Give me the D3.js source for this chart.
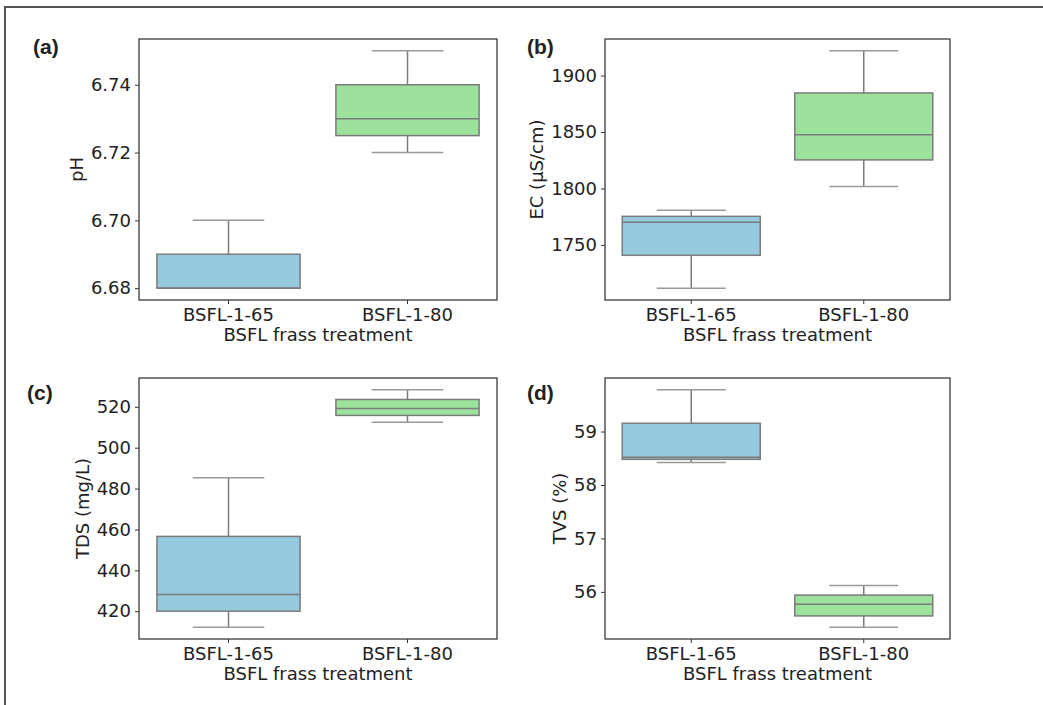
<!DOCTYPE html>
<html>
<head>
<meta charset="utf-8">
<script src="https://cdn.jsdelivr.net/npm/d3@7"></script>
<style>
  body { margin: 0; background: #fff; }
  text { font-family: "DejaVu Sans", sans-serif; fill: #222; }
  .tag { font-family: "Liberation Sans", Arial, sans-serif; font-weight: bold; }
</style>
</head>
<body>
<svg id="chart" width="1043" height="705"></svg>
<script>
const categories = ['BSFL-1-65', 'BSFL-1-80'];
const boxColors = ['#94c9de', '#9ce29c'];

// box stats per treatment: [low whisker, q1, median, q3, high whisker]
const phStats = [[6.68, 6.68, 6.68, 6.69, 6.70], [6.72, 6.725, 6.73, 6.74, 6.75]];
const ecStats = [[1711.7, 1740.8, 1770, 1775.3, 1780.6], [1801.8, 1825.3, 1847.6, 1884.6, 1921.9]];
const tdsStats = [[412.2, 420, 428.2, 456.6, 485.3], [512.5, 515.8, 519.2, 523.6, 528.3]];
const tvsStats = [[58.42, 58.48, 58.52, 59.155, 59.78], [55.34, 55.55, 55.77, 55.94, 56.12]];

const phTicks = [6.68, 6.70, 6.72, 6.74];
const ecTicks = [1750, 1800, 1850, 1900];
const tdsTicks = [420, 440, 460, 480, 500, 520];
const tvsTicks = [56, 57, 58, 59];

const panels = [
  { tag: '(a)', ylabel: 'pH', stats: phStats, ticks: phTicks, fmt: d3.format('.2f'),
    x0: 139, x1: 497, y0: 39, y1: 300, tagX: 33, tagY: 54 },
  { tag: '(b)', ylabel: 'EC (µS/cm)', stats: ecStats, ticks: ecTicks, fmt: d3.format('d'),
    x0: 605, x1: 950, y0: 39, y1: 300, tagX: 527, tagY: 54 },
  { tag: '(c)', ylabel: 'TDS (mg/L)', stats: tdsStats, ticks: tdsTicks, fmt: d3.format('d'),
    x0: 139, x1: 497, y0: 378, y1: 639, tagX: 27, tagY: 400 },
  { tag: '(d)', ylabel: 'TVS (%)', stats: tvsStats, ticks: tvsTicks, fmt: d3.format('d'),
    x0: 605, x1: 950, y0: 378, y1: 639, tagX: 527, tagY: 400 },
];

const svg = d3.select('#chart');
const lineColor = '#7b7b7b';

// outer frame (top and left only)
svg.append('path')
   .attr('d', 'M5,705V7H1043')
   .attr('fill', 'none')
   .attr('stroke', '#555')
   .attr('stroke-width', 2);

panels.forEach(p => {
  const lo = d3.min(p.stats, s => s[0]);
  const hi = d3.max(p.stats, s => s[4]);
  const pad = (hi - lo) * 0.05;

  const x = d3.scaleBand().domain(categories).range([p.x0, p.x1]);
  const y = d3.scaleLinear().domain([lo - pad, hi + pad]).range([p.y1, p.y0]);

  const g = svg.append('g');

  const yAxis = g.append('g')
    .attr('transform', `translate(${p.x0},0)`)
    .call(d3.axisLeft(y).tickValues(p.ticks).tickFormat(p.fmt).tickSize(4).tickPadding(4));
  const xAxis = g.append('g')
    .attr('transform', `translate(0,${p.y1})`)
    .call(d3.axisBottom(x).tickSize(4).tickPadding(4));

  [yAxis, xAxis].forEach(a => {
    a.select('.domain').remove();
    a.selectAll('.tick line').attr('stroke', '#333').attr('stroke-width', 1);
    a.selectAll('.tick text').attr('font-size', 18).attr('fill', '#222')
     .style('font-family', '"DejaVu Sans", sans-serif');
  });

  // boxes
  const bw = x.bandwidth() * 0.8;
  const boxes = g.selectAll('g.box')
    .data(p.stats.map((s, i) => ({ cat: categories[i], s, color: boxColors[i] })))
    .enter().append('g')
      .attr('class', 'box')
      .attr('transform', d => `translate(${x(d.cat) + x.bandwidth() / 2},0)`);

  boxes.append('line')
    .attr('y1', d => y(d.s[0])).attr('y2', d => y(d.s[1]))
    .attr('stroke', lineColor).attr('stroke-width', 1.5);
  boxes.append('line')
    .attr('y1', d => y(d.s[3])).attr('y2', d => y(d.s[4]))
    .attr('stroke', lineColor).attr('stroke-width', 1.5);
  [0, 4].forEach(k => {
    boxes.append('line')
      .attr('x1', -bw / 4).attr('x2', bw / 4)
      .attr('y1', d => y(d.s[k])).attr('y2', d => y(d.s[k]))
      .attr('stroke', '#999').attr('stroke-width', 1.5);
  });
  boxes.append('rect')
    .attr('x', -bw / 2).attr('width', bw)
    .attr('y', d => y(d.s[3]))
    .attr('height', d => y(d.s[1]) - y(d.s[3]))
    .attr('fill', d => d.color)
    .attr('stroke', lineColor).attr('stroke-width', 1.5);
  boxes.append('line')
    .attr('x1', -bw / 2).attr('x2', bw / 2)
    .attr('y1', d => y(d.s[2])).attr('y2', d => y(d.s[2]))
    .attr('stroke', lineColor).attr('stroke-width', 1.5);

  // axes frame
  g.append('rect')
    .attr('x', p.x0).attr('y', p.y0)
    .attr('width', p.x1 - p.x0).attr('height', p.y1 - p.y0)
    .attr('fill', 'none').attr('stroke', '#3a3a3a').attr('stroke-width', 1.3);

  // axis labels
  const tickLeft = d3.min(yAxis.selectAll('.tick text').nodes(), n => n.getBBox().x) + p.x0;
  g.append('text')
    .attr('transform', `translate(${tickLeft - 8},${(p.y0 + p.y1) / 2}) rotate(-90)`)
    .attr('text-anchor', 'middle')
    .attr('font-size', 18)
    .text(p.ylabel);
  g.append('text')
    .attr('x', (p.x0 + p.x1) / 2).attr('y', p.y1 + 41)
    .attr('text-anchor', 'middle')
    .attr('font-size', 18)
    .text('BSFL frass treatment');

  svg.append('text')
    .attr('class', 'tag')
    .attr('x', p.tagX).attr('y', p.tagY)
    .attr('font-size', 21)
    .text(p.tag);
});
</script>
</body>
</html>
